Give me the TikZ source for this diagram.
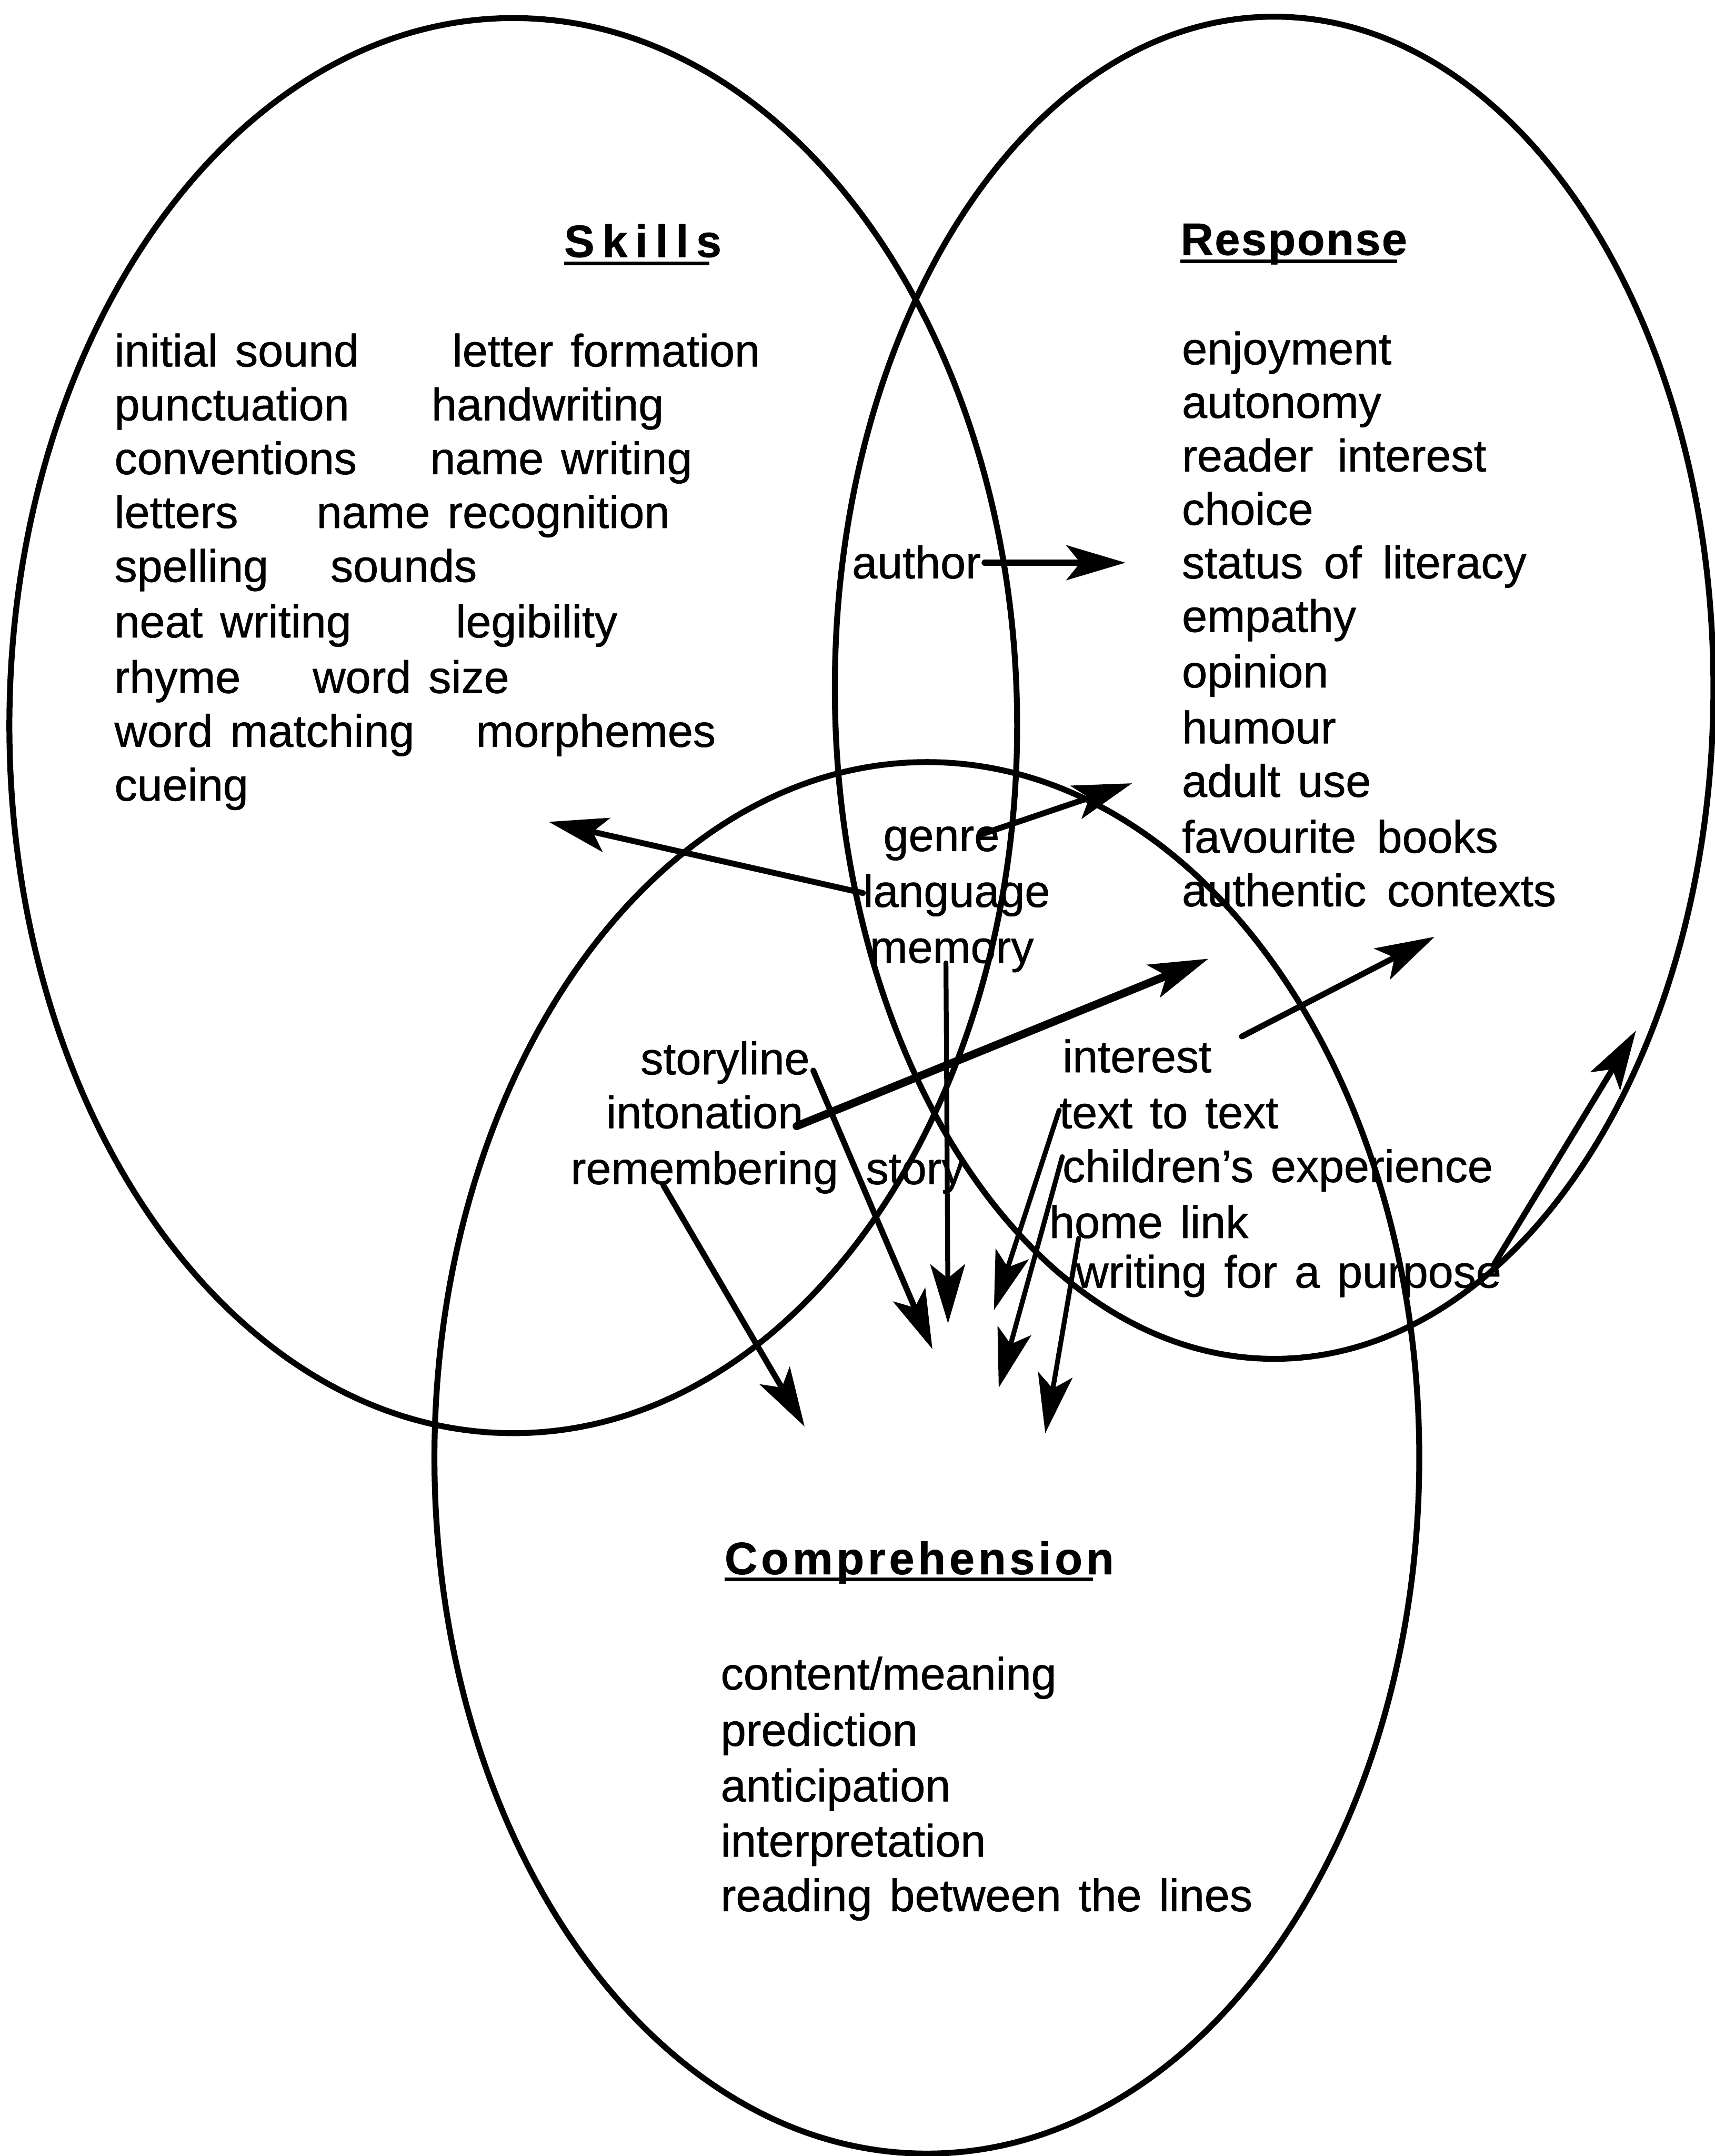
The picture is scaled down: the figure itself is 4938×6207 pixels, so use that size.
\documentclass[tikz,border=0pt]{standalone}
\usepackage{fontspec}
\setmainfont{Liberation Sans}[FakeBold=0.8]
\usetikzlibrary{arrows.meta,calc}
% body text of the three lists and the shared words
\newcommand\lblfont{\fontsize{37.2}{44}\selectfont\spaceskip=5mm\relax}
\begin{document}
\begin{tikzpicture}[x=0.1mm,y=-0.1mm,line join=round,line cap=round,
  lbl/.style={anchor=base west,inner sep=0pt,font=\lblfont},
  ttl/.style={anchor=base west,inner sep=0pt},
  ring/.style={line width=1.7mm},
  uline/.style={line width=1mm,line cap=butt},
  arr/.style={line width=1.7mm,-{Stealth[length=17mm,width=10mm,inset=4mm]}},
  thinarr/.style={arr,line width=1.4mm},
  thickarr/.style={arr,line width=2.3mm}]
\useasboundingbox (0,0) rectangle (4938,6207);

% the three overlapping areas
\draw[ring] (1478,2089) ellipse [x radius=145.1mm, y radius=203.7mm];
\draw[ring] (3669,1980) ellipse [x radius=126.5mm, y radius=193.2mm];
\draw[ring] (2669,4197) ellipse [x radius=141.8mm, y radius=200.3mm];

% headings
\node[ttl,font=\lblfont\bfseries\addfontfeature{LetterSpace=17}] (skills) at (1624,740) {Skills};
\node[ttl,font=\lblfont\bfseries\addfontfeature{LetterSpace=3}] (response) at (3399,734) {Response};
\node[ttl,font=\lblfont\bfseries\addfontfeature{LetterSpace=8}] (comp) at (2086,4532) {Comprehension};
\draw[uline] ($(skills.base west)+(0,18)$) -- ($(skills.base east)+(-35,18)$);
\draw[uline] ($(response.base west)+(0,18)$) -- ($(response.base east)+(-30,18)$);
\draw[uline] ($(comp.base west)+(0,15)$) -- ($(comp.base east)+(-60,15)$);

% skills, left column
\node[lbl] (s1) at (329,1055) {initial sound};
\node[lbl] (s2) at (329,1210) {punctuation};
\node[lbl] (s3) at (329,1365) {conventions};
\node[lbl] (s4) at (329,1520) {letters};
\node[lbl] (s5) at (329,1675) {spelling};
\node[lbl] (s6) at (329,1835) {neat writing};
\node[lbl] (s7) at (329,1995) {rhyme};
\node[lbl] (s8) at (329,2150) {word matching};
\node[lbl] (s9) at (329,2305) {cueing};
% skills, right column
\node[lbl] (r1) at (1302,1055) {letter formation};
\node[lbl] (r2) at (1242,1210) {handwriting};
\node[lbl] (r3) at (1238,1365) {name writing};
\node[lbl] (r4) at (911,1520) {name recognition};
\node[lbl] (r5) at (951,1675) {sounds};
\node[lbl] (r6) at (1312,1835) {legibility};
\node[lbl] (r7) at (900,1995) {word size};
\node[lbl] (r8) at (1370,2150) {morphemes};

% response
\node[lbl] (e1) at (3403,1049) {enjoyment};
\node[lbl] (e2) at (3403,1203) {autonomy};
\node[lbl] (e3) at (3403,1357) {reader\hspace{7mm}interest};
\node[lbl] (e4) at (3403,1511) {choice};
\node[lbl] (e5) at (3403,1665) {status\hspace{6mm}of\hspace{6mm}literacy};
\node[lbl] (e6) at (3403,1819) {empathy};
\node[lbl] (e7) at (3403,1979) {opinion};
\node[lbl] (e8) at (3403,2140) {humour};
\node[lbl] (e9) at (3403,2294) {adult use};
\node[lbl] (e10) at (3403,2455) {favourite\hspace{6mm}books};
\node[lbl] (e11) at (3403,2609) {authentic\hspace{6mm}contexts};

% comprehension
\node[lbl] (c1) at (2075,4864) {content/meaning};
\node[lbl] (c2) at (2075,5026) {prediction};
\node[lbl] (c3) at (2075,5186) {anticipation};
\node[lbl] (c4) at (2075,5345) {interpretation};
\node[lbl] (c5) at (2075,5502) {reading between the lines};

% shared words in the overlaps
\node[lbl] (author) at (2453,1665) {author};
\node[lbl] (genre) at (2543,2450) {genre};
\node[lbl] (language) at (2485,2611) {language};
\node[lbl] (memory) at (2504,2772) {memory};
\node[lbl] (storyline) at (1844,3093) {storyline};
\node[lbl] (intonation) at (1745,3248) {intonation};
\node[lbl] (remember) at (1643,3409) {remembering\hspace{8mm}story};
\node[lbl] (interest) at (3059,3087) {interest};
\node[lbl] (ttt) at (3050,3248) {text to text};
\node[lbl] (childexp) at (3059,3403) {children's experience};
\node[lbl] (homelink) at (3021,3564) {home link};
\node[lbl] (purpose) at (3097,3707) {writing for a purpose};

% arrow ends
\coordinate (tAuthor) at (2835,1620);   \coordinate (hAuthor) at (3241,1620);
\coordinate (tLang) at (2485,2571);     \coordinate (hLang) at (1580,2366);
\coordinate (tGenre) at (2820,2404);    \coordinate (hGenre) at (3260,2255);
\coordinate (tInton) at (2294,3242);    \coordinate (hInton) at (3480,2760);
\coordinate (tInter) at (3576,2984);    \coordinate (hInter) at (4131,2697);
\coordinate (tPurp) at (4304,3637);     \coordinate (hPurp) at (4711,2967);
\coordinate (tMem) at (2724,2772);      \coordinate (hMem) at (2730,3810);
\coordinate (tStory) at (2342,3082);    \coordinate (hStory) at (2685,3884);
\coordinate (tRem) at (1910,3412);      \coordinate (hRem) at (2317,4107);
\coordinate (tTtt) at (3050,3196);      \coordinate (hTtt) at (2862,3772);
\coordinate (tChild) at (3059,3330);    \coordinate (hChild) at (2876,3995);
\coordinate (tHome) at (3106,3565);     \coordinate (hHome) at (3010,4126);

\draw[arr] (tAuthor) -- (hAuthor);
\draw[arr] (tLang) -- (hLang);
\draw[arr] (tGenre) -- (hGenre);
\draw[thickarr] (tInton) -- (hInton);
\draw[arr] (tInter) -- (hInter);
\draw[arr] (tPurp) -- (hPurp);
\draw[thinarr] (tMem) -- (hMem);
\draw[arr] (tStory) -- (hStory);
\draw[arr] (tRem) -- (hRem);
\draw[thinarr] (tTtt) -- (hTtt);
\draw[thinarr] (tChild) -- (hChild);
\draw[thinarr] (tHome) -- (hHome);
\end{tikzpicture}
\end{document}
